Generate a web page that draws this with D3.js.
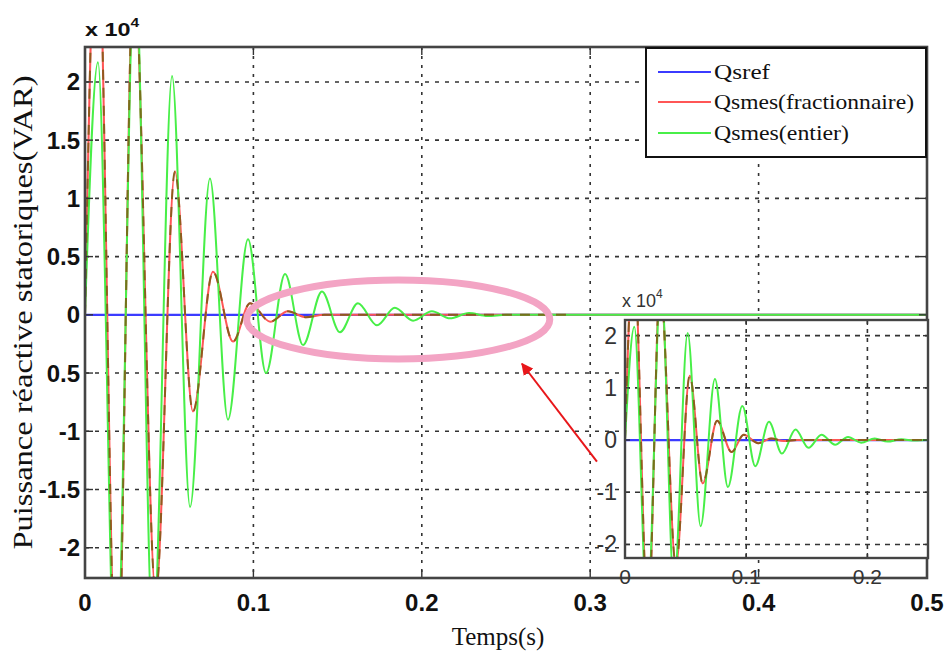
<!DOCTYPE html>
<html>
<head>
<meta charset="utf-8">
<script src="https://cdn.jsdelivr.net/npm/d3@7"></script>
<style>
  html, body { margin: 0; padding: 0; background: #fff; }
  svg { display: block; }
</style>
</head>
<body>
<svg id="chart" width="948" height="655"></svg>
<script>
// Stator reactive power (units of 1e4 VAR) versus time (s)
const timeRef = [0, 0.5];
const qsRef = [0, 0];

// Qsmes with the fractional-order controller: successive extrema
const timeFrac = [0, 0.0072, 0.0190, 0.0290, 0.0420, 0.0534, 0.0641, 0.0760, 0.0879, 0.0980, 0.1100, 0.1205, 0.1310, 0.1420, 0.5];
const qsFrac   = [0, 3.6,   -3.4,    3.0,   -2.4,    1.23,  -0.83,   0.37,  -0.23,   0.10,  -0.06,   0.03,  -0.02,   0,      0];

// Qsmes with the integer-order controller: successive extrema
const timeEntier = [0, 0.0077, 0.0184, 0.0297, 0.0404, 0.0517, 0.0624, 0.0742, 0.0849, 0.0968, 0.1075, 0.1188, 0.1295, 0.1407, 0.1514, 0.1621, 0.1734, 0.1840, 0.1948, 0.2060, 0.2167, 0.2280, 0.2390, 0.2500, 0.5];
const qsEntier   = [0, 2.17,  -3.3,    3.1,   -2.8,    2.05,  -1.65,   1.17,  -0.90,   0.65,  -0.50,   0.35,  -0.26,   0.20,  -0.15,   0.10,  -0.09,   0.06,  -0.05,   0.03,  -0.03,   0.015, -0.01,   0,      0];

// Olive dashed trace drawn over the fractional response
const dashEnd = 0.29;

const seriesNames = ["Qsref", "Qsmes(fractionnaire)", "Qsmes(entier)"];
const seriesColors = ["#3b3bff", "#ff5656", "#48ef48"];
const dashColor = "#7d5a14";

const xTicksMain = [0, 0.1, 0.2, 0.3, 0.4, 0.5];
const xTickLabelsMain = ["0", "0.1", "0.2", "0.3", "0.4", "0.5"];
const yTicksMain = [2, 1.5, 1, 0.5, 0, -0.5, -1, -1.5, -2];
const yTickLabelsMain = ["2", "1.5", "1", "0.5", "0", "0.5", "-1", "-1.5", "-2"];

const xTicksInset = [0, 0.1, 0.2];
const xTickLabelsInset = ["0", "0.1", "0.2"];
const yTicksInset = [2, 1, 0, -1, -2];
const yTickLabelsInset = ["2", "1", "0", "-1", "-2"];

const yDomain = [-2.26, 2.3];

const zip = (ts, vs) => ts.map((t, i) => ({ t, v: vs[i] }));
const refData = zip(timeRef, qsRef);
const fracData = zip(timeFrac, qsFrac);
const entierData = zip(timeEntier, qsEntier);
const dashData = fracData.filter(d => d.t <= dashEnd).concat([{ t: dashEnd, v: 0 }]);

const svg = d3.select("#chart");
svg.append("rect").attr("width", 948).attr("height", 655).attr("fill", "#fff");

function drawPanel(opts) {
  const { left, right, top, bottom, xDomain, xTicks, yTicks, id, gridDash, gridDashV } = opts;
  const x = d3.scaleLinear().domain(xDomain).range([left, right]);
  const y = d3.scaleLinear().domain(yDomain).range([bottom, top]);
  const g = svg.append("g");

  g.append("rect").attr("x", left).attr("y", top)
    .attr("width", right - left).attr("height", bottom - top).attr("fill", "#fff");

  // grid
  g.append("g").selectAll("line").data(yTicks.filter(v => v !== 0)).join("line")
    .attr("x1", left).attr("x2", right)
    .attr("y1", d => y(d)).attr("y2", d => y(d))
    .attr("stroke", "#333").attr("stroke-width", 1.6)
    .attr("stroke-dasharray", gridDash);
  g.append("g").selectAll("line").data(xTicks.filter(v => v > xDomain[0] && v < xDomain[1])).join("line")
    .attr("x1", d => x(d)).attr("x2", d => x(d))
    .attr("y1", top).attr("y2", bottom)
    .attr("stroke", "#333").attr("stroke-width", 1.6)
    .attr("stroke-dasharray", gridDashV);

  // curves
  svg.append("clipPath").attr("id", id)
    .append("rect").attr("x", left).attr("y", top)
    .attr("width", right - left).attr("height", bottom - top);
  const plot = g.append("g").attr("clip-path", `url(#${id})`);
  const line = d3.line().x(d => x(d.t)).y(d => y(d.v)).curve(d3.curveMonotoneX);

  plot.append("path").datum(refData).attr("d", line)
    .attr("fill", "none").attr("stroke", seriesColors[0]).attr("stroke-width", 2.2);
  plot.append("path").datum(fracData).attr("d", line)
    .attr("fill", "none").attr("stroke", seriesColors[1]).attr("stroke-width", 2);
  plot.append("path").datum(entierData).attr("d", line)
    .attr("fill", "none").attr("stroke", seriesColors[2]).attr("stroke-width", 2);
  plot.append("path").datum(dashData).attr("d", line)
    .attr("fill", "none").attr("stroke", dashColor).attr("stroke-width", 2)
    .attr("stroke-dasharray", "10,8").attr("opacity", 0.85);

  // ticks (inward, on all four sides)
  const tl = opts.tickLen;
  const tk = g.append("g").attr("stroke", "#333").attr("stroke-width", 1.4);
  xTicks.forEach(v => {
    tk.append("line").attr("x1", x(v)).attr("x2", x(v)).attr("y1", bottom).attr("y2", bottom - tl);
    tk.append("line").attr("x1", x(v)).attr("x2", x(v)).attr("y1", top).attr("y2", top + tl);
  });
  yTicks.forEach(v => {
    tk.append("line").attr("x1", left).attr("x2", left + tl).attr("y1", y(v)).attr("y2", y(v));
    tk.append("line").attr("x1", right).attr("x2", right - tl).attr("y1", y(v)).attr("y2", y(v));
  });

  // frame
  g.append("rect").attr("x", left).attr("y", top)
    .attr("width", right - left).attr("height", bottom - top)
    .attr("fill", "none").attr("stroke", "#444").attr("stroke-width", opts.frameWidth);

  return { x, y, g };
}

// ---- main axes ----
const main = drawPanel({
  left: 85, right: 927, top: 47, bottom: 578,
  xDomain: [0, 0.5], xTicks: xTicksMain, yTicks: yTicksMain,
  id: "clipMain", gridDash: "4,6", gridDashV: "3,6", tickLen: 8, frameWidth: 2.6
});

const tickFont = "'Liberation Sans', Arial, sans-serif";
svg.append("g").selectAll("text").data(xTicksMain).join("text")
  .attr("x", d => main.x(d)).attr("y", 611)
  .attr("text-anchor", "middle").attr("font-family", tickFont)
  .attr("font-size", 24).attr("font-weight", "bold").attr("fill", "#111")
  .text((d, i) => xTickLabelsMain[i]);
svg.append("g").selectAll("text").data(yTicksMain).join("text")
  .attr("x", 80).attr("y", d => main.y(d) + 8.5)
  .attr("text-anchor", "end").attr("font-family", tickFont)
  .attr("font-size", 24).attr("font-weight", "bold").attr("fill", "#111")
  .text((d, i) => yTickLabelsMain[i]);

// exponent label
const expMain = svg.append("text")
  .attr("transform", "translate(85,36) scale(1.3,1)")
  .attr("font-family", tickFont).attr("font-weight", "bold").attr("fill", "#111");
expMain.append("tspan").attr("font-size", 18).text("x 10");
expMain.append("tspan").attr("font-size", 12).attr("dy", -9).text("4");

// axis titles
svg.append("text")
  .attr("transform", `translate(32,${(47 + 578) / 2}) rotate(-90)`)
  .attr("text-anchor", "middle")
  .attr("font-family", "'Liberation Serif', 'Times New Roman', serif")
  .attr("font-size", 27).attr("fill", "#111")
  .attr("textLength", 474).attr("lengthAdjust", "spacingAndGlyphs")
  .text("Puissance réactive statoriques(VAR)");
svg.append("text")
  .attr("x", 498).attr("y", 645).attr("text-anchor", "middle")
  .attr("font-family", "'Liberation Serif', 'Times New Roman', serif")
  .attr("font-size", 25).attr("fill", "#111")
  .text("Temps(s)");

// ---- legend ----
const lg = svg.append("g");
lg.append("rect").attr("x", 646).attr("y", 48).attr("width", 280).attr("height", 109)
  .attr("fill", "#fff").attr("stroke", "#111").attr("stroke-width", 2);
const legendRows = [72, 102, 133];
const legendWidths = [56, 200, 135];
seriesNames.forEach((name, i) => {
  lg.append("line").attr("x1", 658).attr("x2", 711)
    .attr("y1", legendRows[i]).attr("y2", legendRows[i])
    .attr("stroke", seriesColors[i]).attr("stroke-width", 2);
  lg.append("text").attr("x", 714).attr("y", legendRows[i] + 7)
    .attr("font-family", "'Liberation Serif', 'Times New Roman', serif")
    .attr("font-size", 22).attr("fill", "#111")
    .attr("textLength", legendWidths[i]).attr("lengthAdjust", "spacingAndGlyphs")
    .text(name);
});

// ---- annotation: highlight of the settling region and pointer to the zoom ----
const mx = main.x, my = main.y;
svg.append("ellipse")
  .attr("cx", (mx(0.096) + mx(0.276)) / 2).attr("cy", (my(0.30) + my(-0.38)) / 2)
  .attr("rx", (mx(0.276) - mx(0.096)) / 2).attr("ry", (my(-0.38) - my(0.30)) / 2)
  .attr("fill", "none").attr("stroke", "#f3a4c4").attr("stroke-width", 7);

svg.append("defs").append("marker")
  .attr("id", "arrowHead").attr("viewBox", "0 0 10 10")
  .attr("refX", 9).attr("refY", 5).attr("markerWidth", 6).attr("markerHeight", 6)
  .attr("orient", "auto")
  .append("path").attr("d", "M0,0 L10,5 L0,10 z").attr("fill", "#e8161a");
svg.append("line")
  .attr("x1", mx(0.304)).attr("y1", my(-1.26))
  .attr("x2", mx(0.2595)).attr("y2", my(-0.42))
  .attr("stroke", "#e8161a").attr("stroke-width", 2)
  .attr("marker-end", "url(#arrowHead)");

// ---- inset: zoom on the first 0.25 s ----
const inset = drawPanel({
  left: 625, right: 928, top: 320, bottom: 558,
  xDomain: [0, 0.25], xTicks: xTicksInset, yTicks: yTicksInset,
  id: "clipInset", gridDash: "5,5", gridDashV: "4,5", tickLen: 5, frameWidth: 2.4
});

svg.append("g").selectAll("text").data(xTicksInset).join("text")
  .attr("x", d => inset.x(d)).attr("y", 584)
  .attr("text-anchor", "middle").attr("font-family", tickFont)
  .attr("font-size", 21).attr("fill", "#333")
  .text((d, i) => xTickLabelsInset[i]);
svg.append("g").selectAll("text").data(yTicksInset).join("text")
  .attr("x", 617).attr("y", d => inset.y(d) + 8)
  .attr("text-anchor", "end").attr("font-family", tickFont)
  .attr("font-size", 23).attr("fill", "#333")
  .text((d, i) => yTickLabelsInset[i]);
const expInset = svg.append("text")
  .attr("x", 622).attr("y", 307)
  .attr("font-family", tickFont).attr("fill", "#333");
expInset.append("tspan").attr("font-size", 18).text("x 10");
expInset.append("tspan").attr("font-size", 12).attr("dy", -9).text("4");
</script>
</body>
</html>
